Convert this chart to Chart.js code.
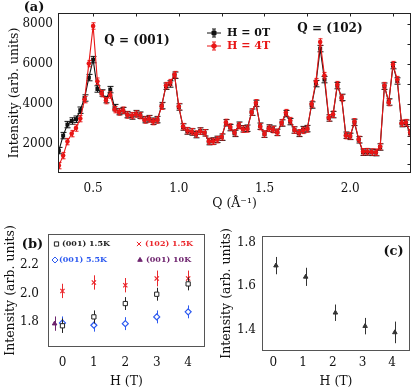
<!DOCTYPE html>
<html>
<head>
<meta charset="utf-8">
<script src="https://cdn.jsdelivr.net/npm/chart.js@4.4.1/dist/chart.umd.min.js"></script>
<style>
  html, body { margin: 0; padding: 0; background: #fff; }
  #wrap { position: relative; width: 415px; height: 391px; overflow: hidden; }
  canvas { position: absolute; }
</style>
</head>
<body>
<div id="wrap">
  <canvas id="chartA" width="415" height="212" style="left:0;top:0"></canvas>
  <canvas id="chartB" width="210" height="179" style="left:0;top:212px"></canvas>
  <canvas id="chartC" width="205" height="179" style="left:210px;top:212px"></canvas>
</div>
<script>
const FONT = "'DejaVu Serif', serif";

// (a) Q scans at 0T and 4T
const qValues = [
  0.300, 0.325, 0.350, 0.375, 0.400, 0.425, 0.450, 0.475, 0.500, 0.525,
  0.550, 0.575, 0.600, 0.625, 0.650, 0.675, 0.700, 0.725, 0.750, 0.775,
  0.800, 0.825, 0.850, 0.875, 0.900, 0.925, 0.950, 0.975, 1.000, 1.025,
  1.050, 1.075, 1.100, 1.125, 1.150, 1.175, 1.200, 1.225, 1.250, 1.275,
  1.300, 1.325, 1.350, 1.375, 1.400, 1.425, 1.450, 1.475, 1.500, 1.525,
  1.550, 1.575, 1.600, 1.625, 1.650, 1.675, 1.700, 1.725, 1.750, 1.775,
  1.800, 1.825, 1.850, 1.875, 1.900, 1.925, 1.950, 1.975, 2.000, 2.025,
  2.050, 2.075, 2.100, 2.125, 2.150, 2.175, 2.200, 2.225, 2.250, 2.275,
  2.300, 2.325, 2.350
];
const int0T = [
  1650, 2400, 2950, 3130, 3220, 3670, 4280, 5300, 6200, 4730,
  4530, 4200, 4700, 3800, 3600, 3650, 3450, 3380, 3500, 3420,
  3200, 3250, 3120, 3200, 3900, 4870, 4980, 5420, 3830, 2830,
  2630, 2580, 2450, 2630, 2540, 2100, 2130, 2210, 2320, 3040,
  2800, 2510, 2920, 2740, 2770, 3570, 4010, 2870, 2470, 2780,
  2720, 2560, 3030, 3500, 3100, 2680, 2510, 2700, 2750, 3930,
  5000, 6750, 5200, 3280, 3450, 4900, 4310, 2420, 2360, 3060,
  2190, 1570, 1580, 1560, 1550, 1830, 4870, 4080, 5900, 5130,
  3000, 3020, 2520
];
const int4T = [
  900, 1400, 2100, 2500, 2780, 3250, 4200, 6000, 7880, 5120,
  4500, 4150, 4430, 3700, 3580, 3670, 3430, 3400, 3480, 3400,
  3180, 3230, 3100, 3180, 3870, 4900, 5050, 5450, 3850, 2850,
  2650, 2600, 2480, 2620, 2540, 2110, 2110, 2200, 2340, 3060,
  2830, 2540, 2900, 2720, 2730, 3580, 4040, 2850, 2480, 2760,
  2700, 2560, 3050, 3550, 3150, 2680, 2540, 2660, 2730, 3980,
  5100, 7080, 5400, 3290, 3470, 4950, 4280, 2400, 2380, 3090,
  2210, 1590, 1600, 1580, 1570, 1850, 4900, 4050, 5950, 5200,
  3020, 3050, 2550
];
const errA = 160;
const xTicksA = [0.5, 1.0, 1.5, 2.0];
const yTicksA = [2000, 4000, 6000, 8000];
const xMinorA = [0.5, 0.75, 1.0, 1.25, 1.5, 1.75, 2.0, 2.25];
const yMinorA = [1000, 2000, 3000, 4000, 5000, 6000, 7000, 8000];

// (b) peak intensity vs field
const fieldB = [0, 1, 2, 3, 4];
const i001_15K = [1.775, 1.837, 1.930, 1.995, 2.067];
const e001_15K = [0.050, 0.045, 0.045, 0.045, 0.045];
const i102_15K = [2.018, 2.077, 2.058, 2.105, 2.105];
const e102_15K = [0.050, 0.050, 0.050, 0.055, 0.055];
const i001_55K = [1.795, 1.779, 1.790, 1.837, 1.872];
const e001_55K = [0.045, 0.045, 0.045, 0.045, 0.045];
const field10K = [-0.25];
const i001_10K = [1.79];
const e001_10K = [0.05];
const yTicksB = [1.8, 2.0, 2.2];

// (c)
const fieldC = [0.09, 1.09, 2.09, 3.09, 4.09];
const intC = [1.695, 1.643, 1.477, 1.415, 1.386];
const errC = [0.040, 0.042, 0.038, 0.038, 0.050];
const yTicksC = [1.4, 1.6, 1.8];
const hTicks = [0, 1, 2, 3, 4];

Chart.defaults.font.family = FONT;
Chart.defaults.color = '#111';

function pts(xs, ys) {
  return xs.map((x, i) => ({ x: x, y: ys[i] }));
}

// error bars under each dataset
const errorBars = {
  id: 'errorBars',
  beforeDatasetDraw(chart, args) {
    const ds = chart.data.datasets[args.index];
    if (ds.errors == null) return;
    const ys = chart.scales.y;
    const ctx = chart.ctx;
    const a = chart.chartArea;
    ctx.save();
    ctx.beginPath();
    ctx.rect(a.left, a.top, a.right - a.left, a.bottom - a.top);
    ctx.clip();
    ctx.strokeStyle = ds.borderColor;
    ctx.lineWidth = 1;
    args.meta.data.forEach((p, i) => {
      const v = ds.data[i].y;
      const e = Array.isArray(ds.errors) ? ds.errors[i] : ds.errors;
      const t = ys.getPixelForValue(v + e);
      const b = ys.getPixelForValue(v - e);
      const x = Math.round(p.x) + 0.5;
      ctx.beginPath();
      ctx.moveTo(x, t);
      ctx.lineTo(x, b);
      if (ds.capWidth) {
        const c = ds.capWidth / 2;
        ctx.moveTo(x - c, t); ctx.lineTo(x + c, t);
        ctx.moveTo(x - c, b); ctx.lineTo(x + c, b);
      }
      ctx.stroke();
    });
    ctx.restore();
  }
};

function frame(color, topTicks, rightTicks) {
  return {
    id: 'frame',
    afterDraw(chart) {
      const { ctx, chartArea: a, scales } = chart;
      const l = Math.round(a.left) + 0.5, t = Math.round(a.top) + 0.5;
      const r = Math.round(a.right) - 0.5, b = Math.round(a.bottom) - 0.5;
      ctx.save();
      ctx.strokeStyle = color;
      ctx.lineWidth = 1;
      ctx.strokeRect(l, t, r - l, b - t);
      ctx.beginPath();
      (topTicks || []).forEach(v => {
        const x = Math.round(scales.x.getPixelForValue(v)) + 0.5;
        ctx.moveTo(x, t); ctx.lineTo(x, t + 3);
      });
      (rightTicks || []).forEach(v => {
        const y = Math.round(scales.y.getPixelForValue(v)) + 0.5;
        ctx.moveTo(r, y); ctx.lineTo(r - 3, y);
      });
      ctx.stroke();
      ctx.restore();
    }
  };
}

function notes(items) {
  return {
    id: 'notes',
    afterDraw(chart) {
      const ctx = chart.ctx;
      items.forEach(n => {
        ctx.save();
        ctx.font = n.font;
        ctx.fillStyle = n.color || '#111';
        ctx.textAlign = n.align || 'center';
        ctx.textBaseline = 'middle';
        ctx.fillText(n.text, n.x, n.y);
        ctx.restore();
      });
    }
  };
}

// small legend made of markers + labels
function markerLegend(entries, font, withLine) {
  return {
    id: 'markerLegend',
    afterDraw(chart) {
      const ctx = chart.ctx;
      entries.forEach(en => {
        const ds = chart.data.datasets[en.ds];
        ctx.save();
        ctx.strokeStyle = ds.borderColor;
        ctx.fillStyle = ds.backgroundColor;
        ctx.lineWidth = 1;
        if (withLine) {
          ctx.beginPath();
          ctx.moveTo(en.mx - 7, en.y); ctx.lineTo(en.mx + 7, en.y);
          ctx.moveTo(en.mx, en.y - 4); ctx.lineTo(en.mx, en.y + 4);
          ctx.moveTo(en.mx - 2, en.y - 4); ctx.lineTo(en.mx + 2, en.y - 4);
          ctx.moveTo(en.mx - 2, en.y + 4); ctx.lineTo(en.mx + 2, en.y + 4);
          ctx.stroke();
        }
        Chart.helpers.drawPoint(ctx, {
          pointStyle: ds.pointStyle, radius: ds.pointRadius, rotation: 0,
          borderWidth: ds.pointBorderWidth || 1
        }, en.mx, en.y);
        ctx.fillStyle = ds.borderColor;
        ctx.font = font;
        ctx.textAlign = 'left';
        ctx.textBaseline = 'middle';
        ctx.fillText(ds.label, en.tx, en.y);
        ctx.restore();
      });
    }
  };
}

function axisFont(size) {
  return { family: FONT, size: size };
}

// ---- panel (a)
new Chart(document.getElementById('chartA'), {
  type: 'scatter',
  data: {
    datasets: [
      {
        label: 'H = 0T', data: pts(qValues, int0T), showLine: true,
        borderColor: '#111', backgroundColor: '#111', borderWidth: 1.1,
        pointStyle: 'rect', pointRadius: 2.8, pointBorderWidth: 0,
        errors: errA, capWidth: 6, order: 1
      },
      {
        label: 'H = 4T', data: pts(qValues, int4T), showLine: true,
        borderColor: 'rgb(232,22,22)', backgroundColor: 'rgb(232,22,22)', borderWidth: 1.1,
        pointStyle: 'circle', pointRadius: 2.3, pointBorderWidth: 0,
        errors: errA, capWidth: 4, order: 0
      }
    ]
  },
  options: {
    responsive: false,
    animation: false,
    events: [],
    layout: { padding: { top: 13, right: 4, left: 0, bottom: 0 } },
    plugins: { legend: { display: false }, tooltip: { enabled: false } },
    scales: {
      x: {
        type: 'linear', min: 0.295, max: 2.355,
        afterFit: s => { s.height = 39; },
        afterBuildTicks: s => { s.ticks = xTicksA.map(v => ({ value: v })); },
        grid: { display: false, drawTicks: false },
        border: { display: false },
        ticks: { padding: 9, font: axisFont(12), maxRotation: 0, autoSkip: false, callback: v => v.toFixed(1) },
        title: { display: true, text: 'Q (Å⁻¹)', font: axisFont(12.5), padding: { top: 0, bottom: 1 } }
      },
      y: {
        min: 530, max: 8530,
        afterFit: s => { s.width = 58; },
        afterBuildTicks: s => { s.ticks = yTicksA.map(v => ({ value: v })); },
        grid: { display: false, drawTicks: false },
        border: { display: false },
        ticks: { padding: 5, font: axisFont(12), callback: v => String(v) },
        title: { display: true, text: 'Intensity (arb. units)', font: axisFont(12.5), padding: { top: 7, bottom: 0 } }
      }
    }
  },
  plugins: [
    errorBars,
    frame('#222', xMinorA, yMinorA),
    notes([
      { text: '(a)', x: 34, y: 8, font: `bold 13px ${FONT}` },
      { text: 'Q = (001)', x: 137, y: 41, font: `bold 12px ${FONT}` },
      { text: 'Q = (102)', x: 330, y: 29, font: `bold 12px ${FONT}` }
    ]),
    markerLegend([
      { ds: 0, mx: 214, tx: 227, y: 33 },
      { ds: 1, mx: 214, tx: 227, y: 46 }
    ], `bold 11px ${FONT}`, true)
  ]
});

// ---- panel (b)
new Chart(document.getElementById('chartB'), {
  type: 'scatter',
  data: {
    datasets: [
      {
        label: '(001) 1.5K', data: pts(fieldB, i001_15K),
        borderColor: '#222', backgroundColor: '#fff',
        pointStyle: 'rect', pointRadius: 3, pointBorderWidth: 1,
        errors: e001_15K
      },
      {
        label: '(102) 1.5K', data: pts(fieldB, i102_15K),
        borderColor: 'rgb(235,40,45)', backgroundColor: 'rgb(235,40,45)',
        pointStyle: 'crossRot', pointRadius: 3, pointBorderWidth: 1.2,
        errors: e102_15K
      },
      {
        label: '(001) 5.5K', data: pts(fieldB, i001_55K),
        borderColor: 'rgb(45,90,240)', backgroundColor: '#fff',
        pointStyle: 'rectRot', pointRadius: 3, pointBorderWidth: 1.2,
        errors: e001_55K
      },
      {
        label: '(001) 10K', data: pts(field10K, i001_10K),
        borderColor: 'rgb(110,35,110)', backgroundColor: 'rgb(110,35,110)',
        pointStyle: 'triangle', pointRadius: 2.6, pointBorderWidth: 1,
        errors: e001_10K
      }
    ]
  },
  options: {
    responsive: false,
    animation: false,
    events: [],
    layout: { padding: { top: 22, right: 5, left: 0, bottom: 0 } },
    plugins: { legend: { display: false }, tooltip: { enabled: false } },
    scales: {
      x: {
        type: 'linear', min: -0.46, max: 4.53,
        afterFit: s => { s.height = 44; },
        afterBuildTicks: s => { s.ticks = hTicks.map(v => ({ value: v })); },
        grid: { display: false, drawTicks: false },
        border: { display: false },
        ticks: { padding: 9, font: axisFont(12), maxRotation: 0, autoSkip: false, callback: v => String(v) },
        title: { display: true, text: 'H (T)', font: axisFont(12.5), padding: { top: 0, bottom: 2 } }
      },
      y: {
        min: 1.627, max: 2.415,
        afterFit: s => { s.width = 48; },
        afterBuildTicks: s => { s.ticks = yTicksB.map(v => ({ value: v })); },
        grid: { display: false, drawTicks: false },
        border: { display: false },
        ticks: { padding: 9, font: axisFont(12), callback: v => v.toFixed(1) },
        title: { display: true, text: 'Intensity (arb. units)', font: axisFont(12.5), padding: { top: 3, bottom: 0 } }
      }
    }
  },
  plugins: [
    errorBars,
    frame('#555'),
    notes([{ text: '(b)', x: 32.5, y: 33, font: `bold 13px ${FONT}` }]),
    markerLegend([
      { ds: 0, mx: 56.5, tx: 62, y: 32 },
      { ds: 1, mx: 139, tx: 145, y: 32 },
      { ds: 2, mx: 55, tx: 59, y: 48 },
      { ds: 3, mx: 140, tx: 146, y: 48 }
    ], `bold 8px ${FONT}`, false)
  ]
});

// ---- panel (c)
new Chart(document.getElementById('chartC'), {
  type: 'scatter',
  data: {
    datasets: [
      {
        label: '(c)', data: pts(fieldC, intC),
        borderColor: '#333', backgroundColor: '#333',
        pointStyle: 'triangle', pointRadius: 2.6, pointBorderWidth: 1,
        errors: errC
      }
    ]
  },
  options: {
    responsive: false,
    animation: false,
    events: [],
    layout: { padding: { top: 24, right: 2, left: 0, bottom: 0 } },
    plugins: { legend: { display: false }, tooltip: { enabled: false } },
    scales: {
      x: {
        type: 'linear', min: -0.38, max: 4.6,
        afterFit: s => { s.height = 40; },
        afterBuildTicks: s => { s.ticks = hTicks.map(v => ({ value: v })); },
        grid: { display: false, drawTicks: false },
        border: { display: false },
        ticks: { padding: 5, font: axisFont(12), maxRotation: 0, autoSkip: false, callback: v => String(v) },
        title: { display: true, text: 'H (T)', font: axisFont(12.5), padding: { top: 0, bottom: 2 } }
      },
      y: {
        min: 1.30, max: 1.832,
        afterFit: s => { s.width = 52; },
        afterBuildTicks: s => { s.ticks = yTicksC.map(v => ({ value: v })); },
        grid: { display: false, drawTicks: false },
        border: { display: false },
        ticks: { padding: 6, font: axisFont(12), callback: v => v.toFixed(1) },
        title: { display: true, text: 'Intensity (arb. units)', font: axisFont(12.5), padding: { top: 9, bottom: 0 } }
      }
    }
  },
  plugins: [
    errorBars,
    frame('#555'),
    notes([{ text: '(c)', x: 183.5, y: 40, font: `bold 13px ${FONT}` }])
  ]
});
</script>
</body>
</html>
